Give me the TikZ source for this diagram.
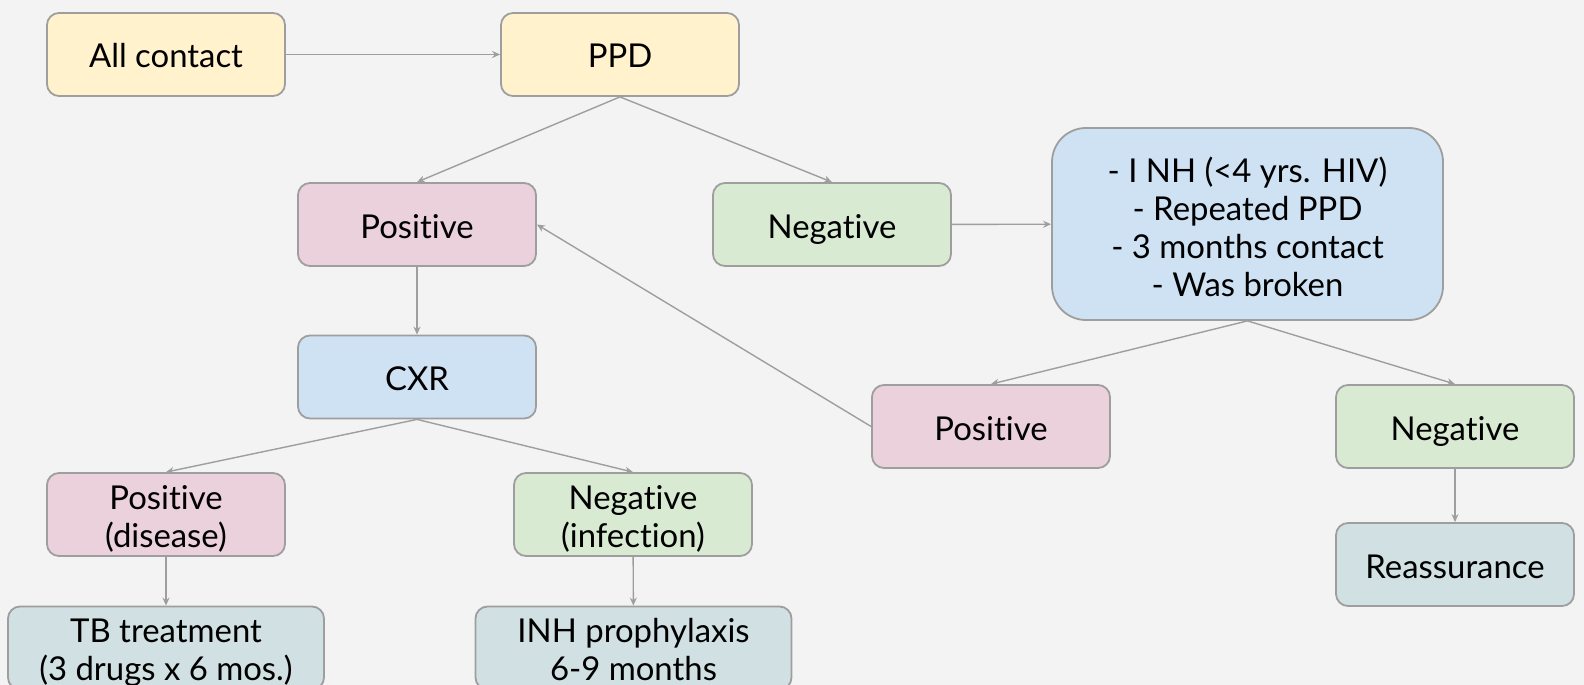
\documentclass[tikz,border=0pt]{standalone}
\usepackage{fontspec}
\setmainfont{Lato}[Ligatures=NoCommon]
\usetikzlibrary{arrows.meta,positioning}
\definecolor{bgcol}{HTML}{F3F3F3}
\definecolor{edgecol}{HTML}{9E9E9E}
\definecolor{yellowblk}{HTML}{FFF2CC}
\definecolor{pinkblk}{HTML}{EAD1DC}
\definecolor{greenblk}{HTML}{D9EAD3}
\definecolor{blueblk}{HTML}{CFE2F3}
\definecolor{slateblk}{HTML}{D0E0E3}
\newcommand{\textstrut}[1]{\rule[-8bp]{0pt}{#1}}
\tikzset{
  blk/.style    = {draw=edgecol,line width=1.8bp,rounded corners=12bp,
                   minimum width=238bp,minimum height=83bp,align=center,
                   inner sep=0pt,font=\fontsize{33}{38}\selectfont,
                   execute at begin node=\textstrut{43bp}},
  multi/.style  = {execute at begin node=\textstrut{#1}},
  multi/.default= 81bp,
  startb/.style = {blk,fill=yellowblk},
  posb/.style   = {blk,fill=pinkblk},
  negb/.style   = {blk,fill=greenblk},
  testb/.style  = {blk,fill=blueblk},
  endb/.style   = {blk,multi,fill=slateblk,minimum width=316bp},
  flowarr/.style= {-{Stealth[length=8bp,width=7bp]},line width=1.4bp,draw=edgecol},
}
\begin{document}
\begin{tikzpicture}[x=1bp,y=-1bp]
  \fill[bgcol] (0,0) rectangle (1584,685);
  \clip (0,0) rectangle (1584,685);
  \useasboundingbox (0,0) rectangle (1584,685);

  % top row
  \node[startb] (contact) at (166,54.5) {All contact};
  \node[startb] (ppd) at (620,54.5) {PPD};

  % first test result
  \node[posb] (pos1) at (417,224.5) {Positive};
  \node[negb] (neg1) at (832,224.5) {Negative};
  \node[testb,multi=161bp,minimum width=391bp,minimum height=192bp,rounded corners=34bp]
        (retest) at (1247.5,224)
        {- I NH (<4 yrs. HIV)\\ - Repeated PPD\\ - 3 months contact\\ - Was broken};

  % chest x-ray branch
  \node[testb] (cxr) at (417,377) {CXR};
  \node[posb,multi] (disease) at (166,514.5) {Positive\\ (disease)};
  \node[negb,multi] (infect) at (633,514.5) {Negative\\ (infection)};
  \node[endb] (tbtx) at (166,648) {TB treatment\\ (3 drugs x 6 mos.)};
  \node[endb] (inh) at (633.5,648) {INH prophylaxis\\ 6-9 months};

  % repeat branch
  \node[posb] (pos2) at (991,426.5) {Positive};
  \node[negb] (neg2) at (1455,426.5) {Negative};
  \node[blk,fill=slateblk] (reassure) at (1455,564.5) {Reassurance};

  \draw[flowarr] (contact) -- (ppd);
  \draw[flowarr] (ppd.south) -- (pos1.north);
  \draw[flowarr] (ppd.south) -- (neg1.north);
  \draw[flowarr] (neg1) -- (retest);
  \draw[flowarr] (retest.south) -- (pos2.north);
  \draw[flowarr] (retest.south) -- (neg2.north);
  \draw[flowarr] (pos2.west) -- (pos1.east);
  \draw[flowarr] (pos1) -- (cxr);
  \draw[flowarr] (cxr.south) -- (disease.north);
  \draw[flowarr] (cxr.south) -- (infect.north);
  \draw[flowarr] (disease) -- (tbtx);
  \draw[flowarr] (infect) -- (inh);
  \draw[flowarr] (neg2) -- (reassure);
\end{tikzpicture}
\end{document}
